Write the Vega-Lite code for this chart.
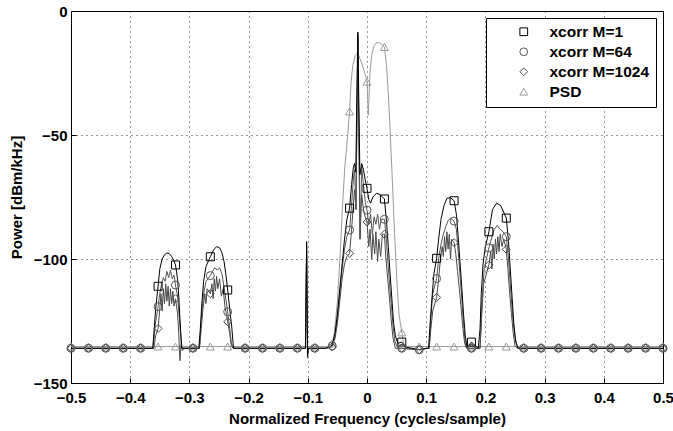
{
  "$schema": "https://vega.github.io/schema/vega-lite/v6.json",
  "width": 592,
  "height": 372,
  "autosize": {"type": "none"},
  "padding": {"left": 71, "top": 11, "right": 10, "bottom": 48},
  "background": "white",
  "config": {
    "font": "Liberation Sans",
    "view": {"stroke": "black", "strokeWidth": 1},
    "axis": {
      "labelFont": "Liberation Sans", "labelFontSize": 15, "labelFontWeight": "bold", "labelColor": "black",
      "titleFont": "Liberation Sans", "titleFontSize": 15, "titleFontWeight": "bold", "titleColor": "black",
      "domainColor": "black", "tickColor": "black", "gridColor": "black", "gridDash": [1, 4], "gridOpacity": 0.8,
      "tickSize": -5, "labelFlush": false, "labelOverlap": false, "labelBound": false
    },
    "legend": {
      "labelFont": "Liberation Sans", "labelFontSize": 15.5, "labelFontWeight": "bold", "labelColor": "black",
      "symbolSize": 60, "symbolStrokeWidth": 1, "rowPadding": 3, "padding": 6,
      "symbolOffset": 24, "labelOffset": 18, "strokeColor": "black", "fillColor": "white"
    }
  },
  "datasets": {
    "lines": [
      {"series":"PSD","freq":-0.5,"power":-135.3},{"series":"PSD","freq":-0.066,"power":-135.3},{"series":"PSD","freq":-0.0588,"power":-134},{"series":"PSD","freq":-0.056,"power":-131},{"series":"PSD","freq":-0.053,"power":-125},{"series":"PSD","freq":-0.05,"power":-117},{"series":"PSD","freq":-0.047,"power":-105},{"series":"PSD","freq":-0.044,"power":-92},{"series":"PSD","freq":-0.041,"power":-77},{"series":"PSD","freq":-0.0375,"power":-63},{"series":"PSD","freq":-0.034,"power":-54},{"series":"PSD","freq":-0.0294,"power":-40.5},{"series":"PSD","freq":-0.027,"power":-29},{"series":"PSD","freq":-0.024,"power":-22},{"series":"PSD","freq":-0.02,"power":-18},{"series":"PSD","freq":-0.0165,"power":-17},{"series":"PSD","freq":-0.013,"power":-18.5},{"series":"PSD","freq":-0.009,"power":-21},{"series":"PSD","freq":-0.005,"power":-24},{"series":"PSD","freq":-0.002,"power":-26.5},{"series":"PSD","freq":0,"power":-28.5},{"series":"PSD","freq":0.0012,"power":-36},{"series":"PSD","freq":0.0022,"power":-42},{"series":"PSD","freq":0.0032,"power":-36},{"series":"PSD","freq":0.005,"power":-25},{"series":"PSD","freq":0.008,"power":-17.5},{"series":"PSD","freq":0.012,"power":-14},{"series":"PSD","freq":0.016,"power":-12.8},{"series":"PSD","freq":0.021,"power":-12.8},{"series":"PSD","freq":0.025,"power":-13.4},{"series":"PSD","freq":0.0294,"power":-14.5},{"series":"PSD","freq":0.033,"power":-22},{"series":"PSD","freq":0.036,"power":-33},{"series":"PSD","freq":0.039,"power":-48},{"series":"PSD","freq":0.042,"power":-64},{"series":"PSD","freq":0.045,"power":-81},{"series":"PSD","freq":0.048,"power":-97},{"series":"PSD","freq":0.051,"power":-111},{"series":"PSD","freq":0.054,"power":-122},{"series":"PSD","freq":0.0588,"power":-129.6},{"series":"PSD","freq":0.062,"power":-134},{"series":"PSD","freq":0.067,"power":-135.3},{"series":"PSD","freq":0.5,"power":-135.3},

      {"series":"xcorr M=1024","freq":-0.5,"power":-136},{"series":"xcorr M=1024","freq":-0.36,"power":-136},{"series":"xcorr M=1024","freq":-0.357,"power":-131},{"series":"xcorr M=1024","freq":-0.3529,"power":-128},{"series":"xcorr M=1024","freq":-0.35,"power":-120},{"series":"xcorr M=1024","freq":-0.348,"power":-114},{"series":"xcorr M=1024","freq":-0.346,"power":-121},{"series":"xcorr M=1024","freq":-0.344,"power":-112},{"series":"xcorr M=1024","freq":-0.342,"power":-118},{"series":"xcorr M=1024","freq":-0.34,"power":-110},{"series":"xcorr M=1024","freq":-0.338,"power":-117},{"series":"xcorr M=1024","freq":-0.336,"power":-111},{"series":"xcorr M=1024","freq":-0.334,"power":-119},{"series":"xcorr M=1024","freq":-0.332,"power":-112},{"series":"xcorr M=1024","freq":-0.33,"power":-118},{"series":"xcorr M=1024","freq":-0.328,"power":-113},{"series":"xcorr M=1024","freq":-0.326,"power":-119},{"series":"xcorr M=1024","freq":-0.3235,"power":-116},{"series":"xcorr M=1024","freq":-0.32,"power":-122},{"series":"xcorr M=1024","freq":-0.318,"power":-130},{"series":"xcorr M=1024","freq":-0.316,"power":-141},{"series":"xcorr M=1024","freq":-0.314,"power":-134},{"series":"xcorr M=1024","freq":-0.312,"power":-136},
      {"series":"xcorr M=1024","freq":-0.283,"power":-136},{"series":"xcorr M=1024","freq":-0.28,"power":-128},{"series":"xcorr M=1024","freq":-0.277,"power":-120},{"series":"xcorr M=1024","freq":-0.274,"power":-114},{"series":"xcorr M=1024","freq":-0.272,"power":-118},{"series":"xcorr M=1024","freq":-0.27,"power":-112},{"series":"xcorr M=1024","freq":-0.2647,"power":-114},{"series":"xcorr M=1024","freq":-0.262,"power":-110},{"series":"xcorr M=1024","freq":-0.26,"power":-116},{"series":"xcorr M=1024","freq":-0.258,"power":-108},{"series":"xcorr M=1024","freq":-0.256,"power":-113},{"series":"xcorr M=1024","freq":-0.254,"power":-107},{"series":"xcorr M=1024","freq":-0.252,"power":-112},{"series":"xcorr M=1024","freq":-0.249,"power":-108},{"series":"xcorr M=1024","freq":-0.246,"power":-115},{"series":"xcorr M=1024","freq":-0.243,"power":-112},{"series":"xcorr M=1024","freq":-0.24,"power":-119},{"series":"xcorr M=1024","freq":-0.2353,"power":-125.3},{"series":"xcorr M=1024","freq":-0.232,"power":-130},{"series":"xcorr M=1024","freq":-0.229,"power":-135},{"series":"xcorr M=1024","freq":-0.226,"power":-136},
      {"series":"xcorr M=1024","freq":-0.104,"power":-136},{"series":"xcorr M=1024","freq":-0.102,"power":-97},{"series":"xcorr M=1024","freq":-0.1005,"power":-140},{"series":"xcorr M=1024","freq":-0.099,"power":-136},
      {"series":"xcorr M=1024","freq":-0.07,"power":-136},{"series":"xcorr M=1024","freq":-0.0588,"power":-135.5},{"series":"xcorr M=1024","freq":-0.054,"power":-132},{"series":"xcorr M=1024","freq":-0.05,"power":-126},{"series":"xcorr M=1024","freq":-0.046,"power":-117},{"series":"xcorr M=1024","freq":-0.042,"power":-108},{"series":"xcorr M=1024","freq":-0.038,"power":-102},{"series":"xcorr M=1024","freq":-0.034,"power":-99},{"series":"xcorr M=1024","freq":-0.0294,"power":-97.7},{"series":"xcorr M=1024","freq":-0.026,"power":-88},{"series":"xcorr M=1024","freq":-0.023,"power":-78},{"series":"xcorr M=1024","freq":-0.021,"power":-72},{"series":"xcorr M=1024","freq":-0.0186,"power":-80},{"series":"xcorr M=1024","freq":-0.0155,"power":-11},{"series":"xcorr M=1024","freq":-0.0118,"power":-92},{"series":"xcorr M=1024","freq":-0.009,"power":-74},{"series":"xcorr M=1024","freq":-0.006,"power":-80},{"series":"xcorr M=1024","freq":-0.003,"power":-83},{"series":"xcorr M=1024","freq":0,"power":-85.1},{"series":"xcorr M=1024","freq":0.003,"power":-95},{"series":"xcorr M=1024","freq":0.005,"power":-88},{"series":"xcorr M=1024","freq":0.008,"power":-100},{"series":"xcorr M=1024","freq":0.01,"power":-90},{"series":"xcorr M=1024","freq":0.013,"power":-98},{"series":"xcorr M=1024","freq":0.015,"power":-89},{"series":"xcorr M=1024","freq":0.018,"power":-101},{"series":"xcorr M=1024","freq":0.02,"power":-92},{"series":"xcorr M=1024","freq":0.023,"power":-99},{"series":"xcorr M=1024","freq":0.026,"power":-90},{"series":"xcorr M=1024","freq":0.0294,"power":-90},{"series":"xcorr M=1024","freq":0.032,"power":-100},{"series":"xcorr M=1024","freq":0.035,"power":-108},{"series":"xcorr M=1024","freq":0.038,"power":-116},{"series":"xcorr M=1024","freq":0.041,"power":-125},{"series":"xcorr M=1024","freq":0.044,"power":-132},{"series":"xcorr M=1024","freq":0.048,"power":-136},{"series":"xcorr M=1024","freq":0.0588,"power":-136},{"series":"xcorr M=1024","freq":0.0882,"power":-136.6},{"series":"xcorr M=1024","freq":0.103,"power":-136},
      {"series":"xcorr M=1024","freq":0.105,"power":-136},{"series":"xcorr M=1024","freq":0.108,"power":-128},{"series":"xcorr M=1024","freq":0.111,"power":-121},{"series":"xcorr M=1024","freq":0.1176,"power":-115.5},{"series":"xcorr M=1024","freq":0.121,"power":-108},{"series":"xcorr M=1024","freq":0.124,"power":-100},{"series":"xcorr M=1024","freq":0.127,"power":-95},{"series":"xcorr M=1024","freq":0.129,"power":-99},{"series":"xcorr M=1024","freq":0.131,"power":-91},{"series":"xcorr M=1024","freq":0.133,"power":-97},{"series":"xcorr M=1024","freq":0.135,"power":-89},{"series":"xcorr M=1024","freq":0.137,"power":-96},{"series":"xcorr M=1024","freq":0.139,"power":-90},{"series":"xcorr M=1024","freq":0.141,"power":-100},{"series":"xcorr M=1024","freq":0.143,"power":-92},{"series":"xcorr M=1024","freq":0.1471,"power":-93.4},{"series":"xcorr M=1024","freq":0.15,"power":-98},{"series":"xcorr M=1024","freq":0.153,"power":-105},{"series":"xcorr M=1024","freq":0.156,"power":-112},{"series":"xcorr M=1024","freq":0.159,"power":-120},{"series":"xcorr M=1024","freq":0.162,"power":-128},{"series":"xcorr M=1024","freq":0.165,"power":-134},{"series":"xcorr M=1024","freq":0.168,"power":-136},{"series":"xcorr M=1024","freq":0.1765,"power":-136},{"series":"xcorr M=1024","freq":0.189,"power":-136},
      {"series":"xcorr M=1024","freq":0.191,"power":-136},{"series":"xcorr M=1024","freq":0.194,"power":-122},{"series":"xcorr M=1024","freq":0.197,"power":-110},{"series":"xcorr M=1024","freq":0.2059,"power":-102.4},{"series":"xcorr M=1024","freq":0.209,"power":-97},{"series":"xcorr M=1024","freq":0.211,"power":-104},{"series":"xcorr M=1024","freq":0.213,"power":-94},{"series":"xcorr M=1024","freq":0.215,"power":-100},{"series":"xcorr M=1024","freq":0.217,"power":-92},{"series":"xcorr M=1024","freq":0.219,"power":-98},{"series":"xcorr M=1024","freq":0.221,"power":-91},{"series":"xcorr M=1024","freq":0.223,"power":-97},{"series":"xcorr M=1024","freq":0.225,"power":-90},{"series":"xcorr M=1024","freq":0.228,"power":-95},{"series":"xcorr M=1024","freq":0.231,"power":-92},{"series":"xcorr M=1024","freq":0.2353,"power":-96.1},{"series":"xcorr M=1024","freq":0.238,"power":-104},{"series":"xcorr M=1024","freq":0.241,"power":-114},{"series":"xcorr M=1024","freq":0.244,"power":-122},{"series":"xcorr M=1024","freq":0.247,"power":-130},{"series":"xcorr M=1024","freq":0.25,"power":-135},{"series":"xcorr M=1024","freq":0.254,"power":-136},{"series":"xcorr M=1024","freq":0.5,"power":-136},

      {"series":"xcorr M=64","freq":-0.5,"power":-136},{"series":"xcorr M=64","freq":-0.361,"power":-136},{"series":"xcorr M=64","freq":-0.358,"power":-127},{"series":"xcorr M=64","freq":-0.3529,"power":-119.2},{"series":"xcorr M=64","freq":-0.35,"power":-114},{"series":"xcorr M=64","freq":-0.347,"power":-110},{"series":"xcorr M=64","freq":-0.344,"power":-107.5},{"series":"xcorr M=64","freq":-0.341,"power":-109},{"series":"xcorr M=64","freq":-0.338,"power":-105},{"series":"xcorr M=64","freq":-0.335,"power":-107.5},{"series":"xcorr M=64","freq":-0.332,"power":-104.5},{"series":"xcorr M=64","freq":-0.329,"power":-108},{"series":"xcorr M=64","freq":-0.326,"power":-106.5},{"series":"xcorr M=64","freq":-0.3235,"power":-110.5},{"series":"xcorr M=64","freq":-0.32,"power":-115},{"series":"xcorr M=64","freq":-0.317,"power":-124},{"series":"xcorr M=64","freq":-0.314,"power":-133},{"series":"xcorr M=64","freq":-0.312,"power":-137},{"series":"xcorr M=64","freq":-0.309,"power":-136},
      {"series":"xcorr M=64","freq":-0.283,"power":-136},{"series":"xcorr M=64","freq":-0.28,"power":-124},{"series":"xcorr M=64","freq":-0.276,"power":-114},{"series":"xcorr M=64","freq":-0.272,"power":-109},{"series":"xcorr M=64","freq":-0.2647,"power":-106.7},{"series":"xcorr M=64","freq":-0.261,"power":-105},{"series":"xcorr M=64","freq":-0.257,"power":-103.5},{"series":"xcorr M=64","freq":-0.253,"power":-104.5},{"series":"xcorr M=64","freq":-0.249,"power":-103.5},{"series":"xcorr M=64","freq":-0.245,"power":-106},{"series":"xcorr M=64","freq":-0.241,"power":-112},{"series":"xcorr M=64","freq":-0.2353,"power":-121.3},{"series":"xcorr M=64","freq":-0.232,"power":-128},{"series":"xcorr M=64","freq":-0.229,"power":-134},{"series":"xcorr M=64","freq":-0.226,"power":-136},
      {"series":"xcorr M=64","freq":-0.104,"power":-136},{"series":"xcorr M=64","freq":-0.102,"power":-95},{"series":"xcorr M=64","freq":-0.1005,"power":-138},{"series":"xcorr M=64","freq":-0.099,"power":-136},
      {"series":"xcorr M=64","freq":-0.07,"power":-136},{"series":"xcorr M=64","freq":-0.0588,"power":-135},{"series":"xcorr M=64","freq":-0.054,"power":-131},{"series":"xcorr M=64","freq":-0.05,"power":-124},{"series":"xcorr M=64","freq":-0.046,"power":-114},{"series":"xcorr M=64","freq":-0.042,"power":-104},{"series":"xcorr M=64","freq":-0.038,"power":-96},{"series":"xcorr M=64","freq":-0.034,"power":-91},{"series":"xcorr M=64","freq":-0.0294,"power":-88.3},{"series":"xcorr M=64","freq":-0.026,"power":-78},{"series":"xcorr M=64","freq":-0.023,"power":-68},{"series":"xcorr M=64","freq":-0.021,"power":-64},{"series":"xcorr M=64","freq":-0.0186,"power":-80},{"series":"xcorr M=64","freq":-0.0155,"power":-9.5},{"series":"xcorr M=64","freq":-0.0118,"power":-92},{"series":"xcorr M=64","freq":-0.009,"power":-63},{"series":"xcorr M=64","freq":-0.006,"power":-70},{"series":"xcorr M=64","freq":-0.003,"power":-77},{"series":"xcorr M=64","freq":0,"power":-80.3},{"series":"xcorr M=64","freq":0.003,"power":-86},{"series":"xcorr M=64","freq":0.006,"power":-82},{"series":"xcorr M=64","freq":0.009,"power":-90},{"series":"xcorr M=64","freq":0.012,"power":-83},{"series":"xcorr M=64","freq":0.015,"power":-86},{"series":"xcorr M=64","freq":0.018,"power":-82},{"series":"xcorr M=64","freq":0.021,"power":-88},{"series":"xcorr M=64","freq":0.024,"power":-84},{"series":"xcorr M=64","freq":0.0294,"power":-84},{"series":"xcorr M=64","freq":0.032,"power":-90},{"series":"xcorr M=64","freq":0.035,"power":-100},{"series":"xcorr M=64","freq":0.038,"power":-110},{"series":"xcorr M=64","freq":0.041,"power":-118},{"series":"xcorr M=64","freq":0.044,"power":-127},{"series":"xcorr M=64","freq":0.047,"power":-133},{"series":"xcorr M=64","freq":0.052,"power":-136},{"series":"xcorr M=64","freq":0.0588,"power":-136},{"series":"xcorr M=64","freq":0.0882,"power":-136.6},{"series":"xcorr M=64","freq":0.103,"power":-136},
      {"series":"xcorr M=64","freq":0.105,"power":-136},{"series":"xcorr M=64","freq":0.108,"power":-124},{"series":"xcorr M=64","freq":0.111,"power":-114},{"series":"xcorr M=64","freq":0.1176,"power":-107.9},{"series":"xcorr M=64","freq":0.121,"power":-100},{"series":"xcorr M=64","freq":0.125,"power":-94},{"series":"xcorr M=64","freq":0.129,"power":-90},{"series":"xcorr M=64","freq":0.133,"power":-87},{"series":"xcorr M=64","freq":0.137,"power":-84.5},{"series":"xcorr M=64","freq":0.141,"power":-83.5},{"series":"xcorr M=64","freq":0.1471,"power":-84.7},{"series":"xcorr M=64","freq":0.151,"power":-88},{"series":"xcorr M=64","freq":0.154,"power":-97},{"series":"xcorr M=64","freq":0.157,"power":-106},{"series":"xcorr M=64","freq":0.16,"power":-116},{"series":"xcorr M=64","freq":0.163,"power":-126},{"series":"xcorr M=64","freq":0.166,"power":-134},{"series":"xcorr M=64","freq":0.169,"power":-136},{"series":"xcorr M=64","freq":0.1765,"power":-136},{"series":"xcorr M=64","freq":0.189,"power":-136},
      {"series":"xcorr M=64","freq":0.191,"power":-136},{"series":"xcorr M=64","freq":0.194,"power":-118},{"series":"xcorr M=64","freq":0.198,"power":-104},{"series":"xcorr M=64","freq":0.2059,"power":-95.5},{"series":"xcorr M=64","freq":0.21,"power":-92},{"series":"xcorr M=64","freq":0.215,"power":-88},{"series":"xcorr M=64","freq":0.22,"power":-86.5},{"series":"xcorr M=64","freq":0.225,"power":-88},{"series":"xcorr M=64","freq":0.23,"power":-89},{"series":"xcorr M=64","freq":0.2353,"power":-91},{"series":"xcorr M=64","freq":0.239,"power":-100},{"series":"xcorr M=64","freq":0.242,"power":-110},{"series":"xcorr M=64","freq":0.245,"power":-120},{"series":"xcorr M=64","freq":0.248,"power":-128},{"series":"xcorr M=64","freq":0.252,"power":-134},{"series":"xcorr M=64","freq":0.256,"power":-136},{"series":"xcorr M=64","freq":0.5,"power":-136},

      {"series":"xcorr M=1","freq":-0.5,"power":-136},{"series":"xcorr M=1","freq":-0.362,"power":-136},{"series":"xcorr M=1","freq":-0.36,"power":-130},{"series":"xcorr M=1","freq":-0.357,"power":-120},{"series":"xcorr M=1","freq":-0.3529,"power":-111},{"series":"xcorr M=1","freq":-0.35,"power":-104},{"series":"xcorr M=1","freq":-0.346,"power":-100},{"series":"xcorr M=1","freq":-0.342,"power":-98.3},{"series":"xcorr M=1","freq":-0.338,"power":-97.6},{"series":"xcorr M=1","freq":-0.334,"power":-97.8},{"series":"xcorr M=1","freq":-0.33,"power":-99},{"series":"xcorr M=1","freq":-0.3265,"power":-100.5},{"series":"xcorr M=1","freq":-0.3235,"power":-102.4},{"series":"xcorr M=1","freq":-0.32,"power":-108},{"series":"xcorr M=1","freq":-0.3185,"power":-113},{"series":"xcorr M=1","freq":-0.316,"power":-124},{"series":"xcorr M=1","freq":-0.313,"power":-136},
      {"series":"xcorr M=1","freq":-0.284,"power":-136},{"series":"xcorr M=1","freq":-0.2815,"power":-128},{"series":"xcorr M=1","freq":-0.279,"power":-118},{"series":"xcorr M=1","freq":-0.276,"power":-109},{"series":"xcorr M=1","freq":-0.272,"power":-103},{"series":"xcorr M=1","freq":-0.2647,"power":-99.1},{"series":"xcorr M=1","freq":-0.259,"power":-96.3},{"series":"xcorr M=1","freq":-0.254,"power":-95},{"series":"xcorr M=1","freq":-0.249,"power":-95.5},{"series":"xcorr M=1","freq":-0.245,"power":-97.5},{"series":"xcorr M=1","freq":-0.2415,"power":-101},{"series":"xcorr M=1","freq":-0.2385,"power":-106},{"series":"xcorr M=1","freq":-0.2353,"power":-112.5},{"series":"xcorr M=1","freq":-0.232,"power":-120},{"series":"xcorr M=1","freq":-0.2286,"power":-127},{"series":"xcorr M=1","freq":-0.2255,"power":-136},
      {"series":"xcorr M=1","freq":-0.104,"power":-136},{"series":"xcorr M=1","freq":-0.102,"power":-93},{"series":"xcorr M=1","freq":-0.1005,"power":-139},{"series":"xcorr M=1","freq":-0.099,"power":-136},
      {"series":"xcorr M=1","freq":-0.07,"power":-136},{"series":"xcorr M=1","freq":-0.062,"power":-135.5},{"series":"xcorr M=1","freq":-0.0588,"power":-134.5},{"series":"xcorr M=1","freq":-0.054,"power":-130},{"series":"xcorr M=1","freq":-0.05,"power":-122},{"series":"xcorr M=1","freq":-0.046,"power":-112},{"series":"xcorr M=1","freq":-0.042,"power":-102},{"series":"xcorr M=1","freq":-0.038,"power":-92},{"series":"xcorr M=1","freq":-0.034,"power":-84},{"series":"xcorr M=1","freq":-0.0294,"power":-79.5},{"series":"xcorr M=1","freq":-0.026,"power":-70},{"series":"xcorr M=1","freq":-0.023,"power":-63},{"series":"xcorr M=1","freq":-0.021,"power":-61.5},{"series":"xcorr M=1","freq":-0.019,"power":-65},{"series":"xcorr M=1","freq":-0.0155,"power":-8.5},{"series":"xcorr M=1","freq":-0.012,"power":-66},{"series":"xcorr M=1","freq":-0.009,"power":-61.5},{"series":"xcorr M=1","freq":-0.006,"power":-64},{"series":"xcorr M=1","freq":-0.003,"power":-68},{"series":"xcorr M=1","freq":0,"power":-71.5},{"series":"xcorr M=1","freq":0.003,"power":-76},{"series":"xcorr M=1","freq":0.006,"power":-77.5},{"series":"xcorr M=1","freq":0.01,"power":-75},{"series":"xcorr M=1","freq":0.016,"power":-73.5},{"series":"xcorr M=1","freq":0.022,"power":-74},{"series":"xcorr M=1","freq":0.0294,"power":-75.8},{"series":"xcorr M=1","freq":0.033,"power":-85},{"series":"xcorr M=1","freq":0.036,"power":-95},{"series":"xcorr M=1","freq":0.039,"power":-106},{"series":"xcorr M=1","freq":0.042,"power":-116},{"series":"xcorr M=1","freq":0.045,"power":-126},{"series":"xcorr M=1","freq":0.048,"power":-131},{"series":"xcorr M=1","freq":0.052,"power":-134},{"series":"xcorr M=1","freq":0.0588,"power":-133.5},{"series":"xcorr M=1","freq":0.065,"power":-135.5},{"series":"xcorr M=1","freq":0.0882,"power":-136.5},{"series":"xcorr M=1","freq":0.1,"power":-136},
      {"series":"xcorr M=1","freq":0.104,"power":-136},{"series":"xcorr M=1","freq":0.106,"power":-128},{"series":"xcorr M=1","freq":0.109,"power":-118},{"series":"xcorr M=1","freq":0.113,"power":-106},{"series":"xcorr M=1","freq":0.1176,"power":-99.7},{"series":"xcorr M=1","freq":0.121,"power":-92},{"series":"xcorr M=1","freq":0.125,"power":-84},{"series":"xcorr M=1","freq":0.13,"power":-78.5},{"series":"xcorr M=1","freq":0.135,"power":-75.5},{"series":"xcorr M=1","freq":0.141,"power":-75.3},{"series":"xcorr M=1","freq":0.1471,"power":-76.5},{"series":"xcorr M=1","freq":0.151,"power":-82},{"series":"xcorr M=1","freq":0.154,"power":-91},{"series":"xcorr M=1","freq":0.157,"power":-101},{"series":"xcorr M=1","freq":0.16,"power":-111},{"series":"xcorr M=1","freq":0.163,"power":-122},{"series":"xcorr M=1","freq":0.166,"power":-131},{"series":"xcorr M=1","freq":0.169,"power":-135.5},{"series":"xcorr M=1","freq":0.1765,"power":-133.5},{"series":"xcorr M=1","freq":0.183,"power":-135},{"series":"xcorr M=1","freq":0.188,"power":-136},
      {"series":"xcorr M=1","freq":0.191,"power":-128},{"series":"xcorr M=1","freq":0.193,"power":-114},{"series":"xcorr M=1","freq":0.196,"power":-102},{"series":"xcorr M=1","freq":0.2,"power":-95},{"series":"xcorr M=1","freq":0.2059,"power":-89},{"series":"xcorr M=1","freq":0.212,"power":-80},{"series":"xcorr M=1","freq":0.219,"power":-77.5},{"series":"xcorr M=1","freq":0.226,"power":-78.5},{"series":"xcorr M=1","freq":0.2353,"power":-83.5},{"series":"xcorr M=1","freq":0.239,"power":-93},{"series":"xcorr M=1","freq":0.242,"power":-104},{"series":"xcorr M=1","freq":0.245,"power":-115},{"series":"xcorr M=1","freq":0.248,"power":-126},{"series":"xcorr M=1","freq":0.251,"power":-133},{"series":"xcorr M=1","freq":0.255,"power":-136},{"series":"xcorr M=1","freq":0.5,"power":-136}
    ],
    "markers": [
      {"series":"PSD","freq":-0.5,"power":-135.3},{"series":"PSD","freq":-0.4706,"power":-135.3},{"series":"PSD","freq":-0.4412,"power":-135.3},{"series":"PSD","freq":-0.4118,"power":-135.3},{"series":"PSD","freq":-0.3824,"power":-135.3},{"series":"PSD","freq":-0.3529,"power":-135.3},{"series":"PSD","freq":-0.3235,"power":-135.3},{"series":"PSD","freq":-0.2941,"power":-135.3},{"series":"PSD","freq":-0.2647,"power":-135.3},{"series":"PSD","freq":-0.2353,"power":-135.3},{"series":"PSD","freq":-0.2059,"power":-135.3},{"series":"PSD","freq":-0.1765,"power":-135.3},{"series":"PSD","freq":-0.1471,"power":-135.3},{"series":"PSD","freq":-0.1176,"power":-135.3},{"series":"PSD","freq":-0.0882,"power":-135.3},{"series":"PSD","freq":-0.0588,"power":-134},{"series":"PSD","freq":-0.0294,"power":-40.5},{"series":"PSD","freq":0,"power":-28.5},{"series":"PSD","freq":0.0294,"power":-14.5},{"series":"PSD","freq":0.0588,"power":-129.6},{"series":"PSD","freq":0.0882,"power":-135.3},{"series":"PSD","freq":0.1176,"power":-135.3},{"series":"PSD","freq":0.1471,"power":-135.3},{"series":"PSD","freq":0.1765,"power":-135.3},{"series":"PSD","freq":0.2059,"power":-135.3},{"series":"PSD","freq":0.2353,"power":-135.3},{"series":"PSD","freq":0.2647,"power":-135.3},{"series":"PSD","freq":0.2941,"power":-135.3},{"series":"PSD","freq":0.3235,"power":-135.3},{"series":"PSD","freq":0.3529,"power":-135.3},{"series":"PSD","freq":0.3824,"power":-135.3},{"series":"PSD","freq":0.4118,"power":-135.3},{"series":"PSD","freq":0.4412,"power":-135.3},{"series":"PSD","freq":0.4706,"power":-135.3},{"series":"PSD","freq":0.5,"power":-135.3},
      {"series":"xcorr M=1","freq":-0.3529,"power":-111},{"series":"xcorr M=1","freq":-0.3235,"power":-102.4},{"series":"xcorr M=1","freq":-0.2647,"power":-99.1},{"series":"xcorr M=1","freq":-0.2353,"power":-112.5},{"series":"xcorr M=1","freq":-0.0294,"power":-79.5},{"series":"xcorr M=1","freq":0,"power":-71.5},{"series":"xcorr M=1","freq":0.0294,"power":-75.8},{"series":"xcorr M=1","freq":0.0588,"power":-133.5},{"series":"xcorr M=1","freq":0.1176,"power":-99.7},{"series":"xcorr M=1","freq":0.1471,"power":-76.5},{"series":"xcorr M=1","freq":0.1765,"power":-133.5},{"series":"xcorr M=1","freq":0.2059,"power":-89},{"series":"xcorr M=1","freq":0.2353,"power":-83.5},
      {"series":"xcorr M=1024","freq":-0.5,"power":-136},{"series":"xcorr M=1024","freq":-0.4706,"power":-136},{"series":"xcorr M=1024","freq":-0.4412,"power":-136},{"series":"xcorr M=1024","freq":-0.4118,"power":-136},{"series":"xcorr M=1024","freq":-0.3824,"power":-136},{"series":"xcorr M=1024","freq":-0.3529,"power":-128},{"series":"xcorr M=1024","freq":-0.3235,"power":-116},{"series":"xcorr M=1024","freq":-0.2941,"power":-136},{"series":"xcorr M=1024","freq":-0.2647,"power":-114},{"series":"xcorr M=1024","freq":-0.2353,"power":-125.3},{"series":"xcorr M=1024","freq":-0.2059,"power":-136},{"series":"xcorr M=1024","freq":-0.1765,"power":-136},{"series":"xcorr M=1024","freq":-0.1471,"power":-136},{"series":"xcorr M=1024","freq":-0.1176,"power":-136},{"series":"xcorr M=1024","freq":-0.0882,"power":-136},{"series":"xcorr M=1024","freq":-0.0588,"power":-135.5},{"series":"xcorr M=1024","freq":-0.0294,"power":-97.7},{"series":"xcorr M=1024","freq":0,"power":-85.1},{"series":"xcorr M=1024","freq":0.0294,"power":-90},{"series":"xcorr M=1024","freq":0.0588,"power":-136},{"series":"xcorr M=1024","freq":0.0882,"power":-136.6},{"series":"xcorr M=1024","freq":0.1176,"power":-115.5},{"series":"xcorr M=1024","freq":0.1471,"power":-93.4},{"series":"xcorr M=1024","freq":0.1765,"power":-136},{"series":"xcorr M=1024","freq":0.2059,"power":-102.4},{"series":"xcorr M=1024","freq":0.2353,"power":-96.1},{"series":"xcorr M=1024","freq":0.2647,"power":-136},{"series":"xcorr M=1024","freq":0.2941,"power":-136},{"series":"xcorr M=1024","freq":0.3235,"power":-136},{"series":"xcorr M=1024","freq":0.3529,"power":-136},{"series":"xcorr M=1024","freq":0.3824,"power":-136},{"series":"xcorr M=1024","freq":0.4118,"power":-136},{"series":"xcorr M=1024","freq":0.4412,"power":-136},{"series":"xcorr M=1024","freq":0.4706,"power":-136},{"series":"xcorr M=1024","freq":0.5,"power":-136},
      {"series":"xcorr M=64","freq":-0.5,"power":-136},{"series":"xcorr M=64","freq":-0.4706,"power":-136},{"series":"xcorr M=64","freq":-0.4412,"power":-136},{"series":"xcorr M=64","freq":-0.4118,"power":-136},{"series":"xcorr M=64","freq":-0.3824,"power":-136},{"series":"xcorr M=64","freq":-0.3529,"power":-119.2},{"series":"xcorr M=64","freq":-0.3235,"power":-110.5},{"series":"xcorr M=64","freq":-0.2941,"power":-136},{"series":"xcorr M=64","freq":-0.2647,"power":-106.7},{"series":"xcorr M=64","freq":-0.2353,"power":-121.3},{"series":"xcorr M=64","freq":-0.2059,"power":-136},{"series":"xcorr M=64","freq":-0.1765,"power":-136},{"series":"xcorr M=64","freq":-0.1471,"power":-136},{"series":"xcorr M=64","freq":-0.1176,"power":-136},{"series":"xcorr M=64","freq":-0.0882,"power":-136},{"series":"xcorr M=64","freq":-0.0588,"power":-135},{"series":"xcorr M=64","freq":-0.0294,"power":-88.3},{"series":"xcorr M=64","freq":0,"power":-80.3},{"series":"xcorr M=64","freq":0.0294,"power":-84},{"series":"xcorr M=64","freq":0.0588,"power":-136},{"series":"xcorr M=64","freq":0.0882,"power":-136.6},{"series":"xcorr M=64","freq":0.1176,"power":-107.9},{"series":"xcorr M=64","freq":0.1471,"power":-84.7},{"series":"xcorr M=64","freq":0.1765,"power":-136},{"series":"xcorr M=64","freq":0.2059,"power":-95.5},{"series":"xcorr M=64","freq":0.2353,"power":-91},{"series":"xcorr M=64","freq":0.2647,"power":-136},{"series":"xcorr M=64","freq":0.2941,"power":-136},{"series":"xcorr M=64","freq":0.3235,"power":-136},{"series":"xcorr M=64","freq":0.3529,"power":-136},{"series":"xcorr M=64","freq":0.3824,"power":-136},{"series":"xcorr M=64","freq":0.4118,"power":-136},{"series":"xcorr M=64","freq":0.4412,"power":-136},{"series":"xcorr M=64","freq":0.4706,"power":-136},{"series":"xcorr M=64","freq":0.5,"power":-136}
    ]
  },
  "encoding": {
    "x": {"field": "freq", "type": "quantitative", "scale": {"domain": [-0.5, 0.5], "nice": false, "zero": false},
          "axis": {"orient": "bottom", "values": [-0.5, -0.4, -0.3, -0.2, -0.1, 0, 0.1, 0.2, 0.3, 0.4, 0.5], "format": "~g", "grid": true, "title": "Normalized Frequency (cycles/sample)", "labelPadding": 12, "titlePadding": 6}},
    "y": {"field": "power", "type": "quantitative", "scale": {"domain": [-150, 0], "nice": false, "zero": false},
          "axis": {"orient": "left", "values": [-150, -100, -50, 0], "format": "d", "grid": true, "title": "Power [dBm/kHz]", "labelPadding": 9, "titlePadding": 9}}
  },
  "layer": [
    {"data": {"name": "lines"}, "transform": [{"filter": "datum.series === 'PSD'"}], "mark": {"type": "line", "strokeWidth": 1, "color": "#9a9a9a"}},
    {"data": {"name": "lines"}, "transform": [{"filter": "datum.series === 'xcorr M=1024'"}], "mark": {"type": "line", "strokeWidth": 1, "color": "#4a4a4a"}},
    {"data": {"name": "lines"}, "transform": [{"filter": "datum.series === 'xcorr M=64'"}], "mark": {"type": "line", "strokeWidth": 1, "color": "#555555"}},
    {"data": {"name": "lines"}, "transform": [{"filter": "datum.series === 'xcorr M=1'"}], "mark": {"type": "line", "strokeWidth": 1, "color": "#000000"}},
    {
      "data": {"name": "markers"},
      "mark": {"type": "point", "filled": false, "size": 64, "strokeWidth": 1, "opacity": 1},
      "encoding": {
        "color": {"field": "series", "type": "nominal", "scale": {"domain": ["xcorr M=1", "xcorr M=64", "xcorr M=1024", "PSD"], "range": ["#000000", "#555555", "#4a4a4a", "#9a9a9a"]},
                  "legend": {"orient": "none", "legendX": 415, "legendY": 7, "title": null}},
        "shape": {"field": "series", "type": "nominal", "scale": {"domain": ["xcorr M=1", "xcorr M=64", "xcorr M=1024", "PSD"], "range": ["square", "circle", "diamond", "triangle-up"]},
                  "legend": {"orient": "none", "legendX": 415, "legendY": 7, "title": null}}
      }
    }
  ]
}
